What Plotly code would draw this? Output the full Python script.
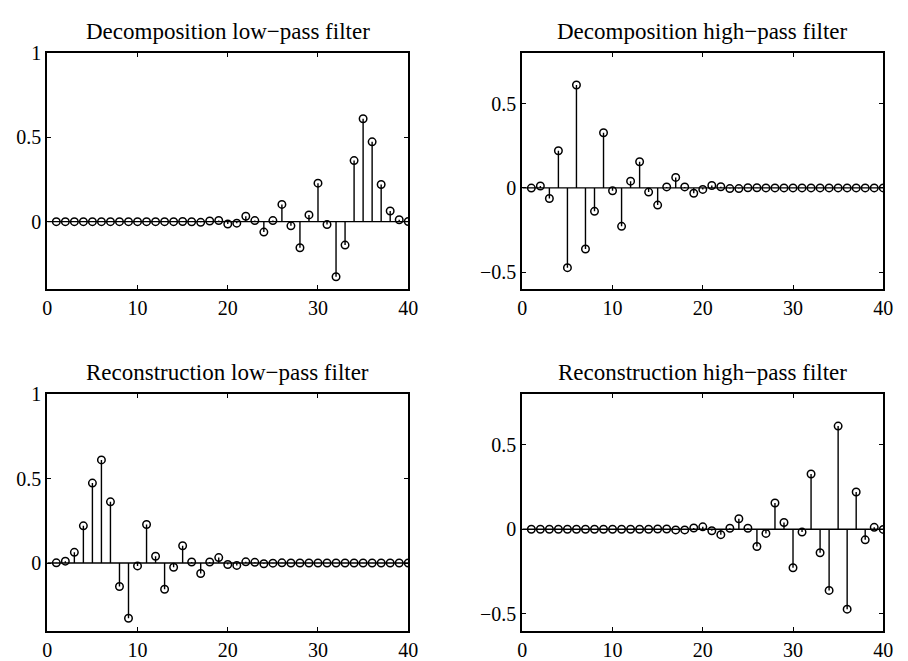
import plotly.graph_objects as go

# Filter tap indices
n = list(range(1, 41))

# Decomposition low-pass filter coefficients
dec_lo = [0.0, 0.0, 0.0, 0.0, 0.0, 0.0, 0.0, 0.0, 0.0, 0.0,
          0.0, 0.0, 0.0, 0.0, 0.001, -0.001, -0.004, 0.004, 0.007, -0.014,
          -0.009, 0.032, 0.006, -0.062, 0.006, 0.102, -0.025, -0.155, 0.040, 0.228,
          -0.017, -0.327, -0.139, 0.362, 0.610, 0.473, 0.220, 0.063, 0.011, 0.001]

# Decomposition high-pass filter coefficients
dec_hi = [-0.001, 0.011, -0.063, 0.220, -0.473, 0.610, -0.362, -0.139, 0.327, -0.017,
          -0.228, 0.040, 0.155, -0.025, -0.102, 0.006, 0.062, 0.006, -0.032, -0.009,
          0.014, 0.007, -0.004, -0.004, 0.001, 0.001, 0.0, 0.0, 0.0, 0.0,
          0.0, 0.0, 0.0, 0.0, 0.0, 0.0, 0.0, 0.0, 0.0, 0.0]

# Reconstruction low-pass filter coefficients
rec_lo = [0.001, 0.011, 0.063, 0.220, 0.473, 0.610, 0.362, -0.139, -0.327, -0.017,
          0.228, 0.040, -0.155, -0.025, 0.102, 0.006, -0.062, 0.006, 0.032, -0.009,
          -0.014, 0.007, 0.004, -0.004, -0.001, 0.001, 0.0, 0.0, 0.0, 0.0,
          0.0, 0.0, 0.0, 0.0, 0.0, 0.0, 0.0, 0.0, 0.0, 0.0]

# Reconstruction high-pass filter coefficients
rec_hi = [0.0, 0.0, 0.0, 0.0, 0.0, 0.0, 0.0, 0.0, 0.0, 0.0,
          0.0, 0.0, 0.0, 0.0, 0.001, 0.001, -0.004, -0.004, 0.007, 0.014,
          -0.009, -0.032, 0.006, 0.062, 0.006, -0.102, -0.025, 0.155, 0.040, -0.228,
          -0.017, 0.327, -0.139, -0.362, 0.610, -0.473, 0.220, -0.063, 0.011, -0.001]

titles = ["Decomposition low\u2212pass filter", "Decomposition high\u2212pass filter",
          "Reconstruction low\u2212pass filter", "Reconstruction high\u2212pass filter"]

x_ticks = [0, 10, 20, 30, 40]
lo_ticks = [0, 0.5, 1]
lo_ticklabels = ["0", "0.5", "1"]
hi_ticks = [-0.5, 0, 0.5]
hi_ticklabels = ["\u22120.5", "0", "0.5"]
lo_range = [-0.4, 1.0]
hi_range = [-0.6, 0.8]

W, H = 908, 661
FONT = "Liberation Serif, Times New Roman, serif"

# Plot box pixel positions (left, right, top, bottom)
boxes = [(43, 410, 43, 285), (526, 893, 43, 285),
         (43, 410, 392.5, 635), (526, 893, 392.5, 635)]
series = [dec_lo, dec_hi, rec_lo, rec_hi]
is_lowpass = [True, False, True, False]
title_y = [21, 21, 370, 370]

fig = go.Figure()
layout = {}
for i, (vals, box) in enumerate(zip(series, boxes)):
    k = "" if i == 0 else str(i + 1)
    xa, ya = "x" + k, "y" + k
    l, r, t, b = box
    # stems
    sx, sy = [], []
    for xi, yi in zip(n, vals):
        sx += [xi, xi, None]
        sy += [0, yi, None]
    fig.add_trace(go.Scatter(x=sx, y=sy, mode="lines", xaxis=xa, yaxis=ya,
                             line=dict(color="black", width=1.4),
                             hoverinfo="skip", showlegend=False))
    # baseline
    fig.add_trace(go.Scatter(x=[0, 40], y=[0, 0], mode="lines", xaxis=xa, yaxis=ya,
                             line=dict(color="black", width=1.4),
                             hoverinfo="skip", showlegend=False))
    # circles
    fig.add_trace(go.Scatter(x=n, y=vals, mode="markers", xaxis=xa, yaxis=ya,
                             marker=dict(symbol="circle-open", size=7.5,
                                         color="black", line=dict(width=1.5)),
                             showlegend=False))
    lp = is_lowpass[i]
    axis_common = dict(showline=True, linecolor="black", linewidth=2,
                       mirror="ticks", ticks="inside", ticklen=4, tickwidth=1.2,
                       tickcolor="black", showgrid=False, zeroline=False,
                       tickfont=dict(family=FONT, size=20, color="black"))
    layout["xaxis" + k] = dict(domain=[l / W, r / W], range=[0, 40],
                               tickvals=x_ticks, anchor=ya, **axis_common)
    layout["yaxis" + k] = dict(domain=[1 - b / H, 1 - t / H],
                               range=lo_range if lp else hi_range,
                               tickvals=lo_ticks if lp else hi_ticks,
                               ticktext=lo_ticklabels if lp else hi_ticklabels,
                               anchor=xa, **axis_common)

annotations = []
for i, box in enumerate(boxes):
    l, r, t, b = box
    annotations.append(dict(text=titles[i], x=(l + r) / 2 / W, y=1 - title_y[i] / H,
                            xref="paper", yref="paper", xanchor="center",
                            yanchor="middle", showarrow=False,
                            font=dict(family=FONT, size=23, color="black")))

fig.update_layout(width=W, height=H, margin=dict(l=0, r=0, t=0, b=0),
                  paper_bgcolor="white", plot_bgcolor="white",
                  annotations=annotations, **layout)
fig.write_html("out.html")
